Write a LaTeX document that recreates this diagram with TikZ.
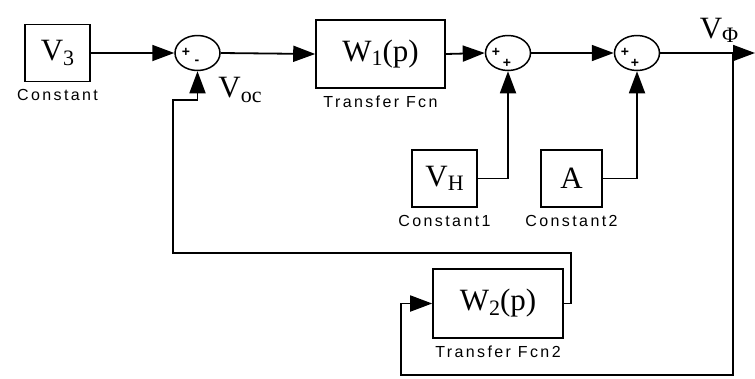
\documentclass[tikz,border=0pt]{standalone}
\usepackage{fontspec}
\setmainfont{Liberation Serif}
\setsansfont{Liberation Sans}
\usepackage{tikz}
\usetikzlibrary{shapes.geometric}
\usetikzlibrary{arrows.meta}
\usetikzlibrary{positioning}

\newcommand{\blkfont}{\fontsize{31}{31}\selectfont}
\newcommand{\lblfont}{\sffamily\fontsize{16}{16}\selectfont\addfontfeature{LetterSpace=15}}
\newcommand{\lowsub}[1]{\raisebox{-0.3ex}{\fontsize{22}{22}\selectfont #1}}

\begin{document}
\begin{tikzpicture}[x=1pt,y=-1pt,
  blk/.style={draw, line width=1.6pt, rectangle, inner sep=0pt, font=\blkfont},
  sumnode/.style={draw, line width=1.5pt, ellipse, minimum width=45pt, minimum height=35pt, inner sep=0pt},
  sig/.style={line width=1.8pt, -{Triangle[length=22pt,width=16pt]}},
  lbl/.style={font=\lblfont, inner sep=1pt, below=6pt},
  sgn/.style={font=\sffamily\bfseries\fontsize{14}{14}\selectfont, inner sep=0pt}]
  \useasboundingbox (0,0) rectangle (755,378);

  \node [blk, minimum width=65pt, minimum height=57pt] (v3) at (57.5,53) {V\lowsub{3}};
  \node [lbl] (v3lbl) at (v3.south) {Constant};
  \node [sumnode] (sum1) at (197.5,53) {};
  \node [sgn] (s1a) at (186,52) {+};
  \node [sgn] (s1b) at (197,62) {-};
  \node [blk, minimum width=129pt, minimum height=68pt] (w1) at (380.5,54) {W\lowsub{1}(p)};
  \node [lbl] (w1lbl) at (w1.south) {Transfer Fcn};
  \node [sumnode] (sum2) at (508,53) {};
  \node [sgn] (s2a) at (496,52) {+};
  \node [sgn] (s2b) at (507,63) {+};
  \node [sumnode] (sum3) at (637,53) {};
  \node [sgn] (s3a) at (625,52) {+};
  \node [sgn] (s3b) at (635,63) {+};
  \node [blk, minimum width=65pt, minimum height=57pt] (vh) at (444.5,178.5) {V\lowsub{H}};
  \node [lbl] (vhlbl) at (vh.south) {Constant1};
  \node [blk, minimum width=61pt, minimum height=57pt] (a) at (571.5,178.5) {A};
  \node [lbl] (albl) at (a.south) {Constant2};
  \node [blk, minimum width=130pt, minimum height=69pt] (w2) at (498,303.5) {W\lowsub{2}(p)};
  \node [lbl] (w2lbl) at (w2.south) {Transfer Fcn2};
  \node [font=\blkfont] (voc) at (240,90) {V\lowsub{oc}};
  \node [font=\blkfont] (vphi) at (719,30) {V\lowsub{Φ}};
  \coordinate (out) at (755,53);
  \coordinate (br) at (733,53);

  \draw [sig] (v3.east) -- (sum1.west);
  \draw [sig] (sum1.east) -- (w1.west);
  \draw [sig] (w1.east) -- (sum2.west);
  \draw [sig] (sum2.east) -- (sum3.west);
  \draw [sig] (sum3.east) -- (out);
  \draw [sig] (vh.east) -| (sum2.south);
  \draw [sig] (a.east) -| (sum3.south);
  \draw [sig] (br) |- (401,375) |- (w2.west);
  \draw [sig] (w2.east) -- (571,303.5) |- (173,253) |- (197.5,100) -- (sum1.south);
\end{tikzpicture}
\end{document}
